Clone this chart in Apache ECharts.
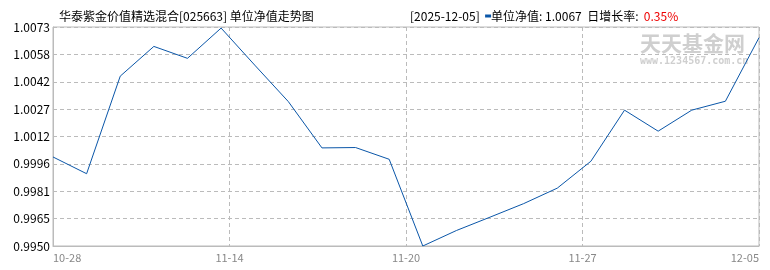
<!DOCTYPE html>
<html><head><meta charset="utf-8">
<script src="https://cdn.jsdelivr.net/npm/echarts@6/dist/echarts.min.js"></script>
<style>html,body{margin:0;padding:0;background:#fff}#c{width:770px;height:270px}</style>
</head><body><div id="c"></div>
<script>
// Unit NAV values (22 points, 10-28 .. 12-05)
const navValues = [1.0000, 0.99906, 1.00454, 1.00621, 1.00554, 1.00724, 1.00516, 1.00311, 1.00051, 1.00053, 0.99987,
  0.99500, 0.99587, 0.99662, 0.99738, 0.99825, 0.99976, 1.00263, 1.00145, 1.00263, 1.00313, 1.0067];
const xTickLabels = ['10-28', '11-14', '11-20', '11-27', '12-05'];
const yMin = 0.9950, yMax = 1.0073;
const titleText = '华泰紫金价值精选混合[025663] 单位净值走势图';
const infoDate = '[2025-12-05]';
const infoNav = '1.0067';
const infoRate = '0.35%';

const n = navValues.length;
const xStep = (n - 1) / (xTickLabels.length - 1);
const seriesData = navValues.map((v, i) => [i, v]);
const FONT = '"Noto Sans CJK SC", "Noto Sans", sans-serif';

const chart = echarts.init(document.getElementById('c'), null, {renderer: 'canvas'});
chart.setOption({
  animation: false,
  backgroundColor: '#fff',
  title: [{
    text: titleText, left: 54, top: 5,
    textStyle: {fontSize: 12, fontWeight: 'normal', color: '#000', fontFamily: FONT}
  }, {
    text: infoDate + '  {m|}单位净值: ' + infoNav + '  日增长率:  {r|' + infoRate + '}',
    left: 405, top: 5,
    textStyle: {fontSize: 12, fontWeight: 'normal', color: '#000', fontFamily: FONT,
      rich: {
        m: {width: 6, height: 3, backgroundColor: '#0a56a8', padding: 0},
        r: {color: '#e00', fontSize: 12, fontFamily: FONT}
      }}
  }],
  graphic: [{
    type: 'text', left: 640, top: 33, silent: true,
    style: {text: '天天基金网', fill: '#cfcfcf', font: 'bold 21px ' + FONT}
  }, {
    type: 'text', left: 640, top: 56, silent: true,
    style: {text: 'www.1234567.com.cn', fill: '#cfcfcf', font: 'bold 10px "DejaVu Sans Mono", monospace'}
  }],
  grid: {left: 53, right: 11, top: 27, bottom: 24, show: true, borderColor: '#bbb', borderWidth: 1, containLabel: false},
  xAxis: {
    type: 'value', min: 0, max: n - 1, interval: xStep,
    axisLine: {show: true, lineStyle: {color: '#bbb'}},
    axisTick: {show: false},
    splitLine: {show: true, lineStyle: {color: '#bbb', type: [4, 3]}},
    axisLabel: {
      color: '#888', fontSize: 11, fontFamily: FONT, margin: 6,
      alignMinLabel: 'left', alignMaxLabel: 'right',
      formatter: v => xTickLabels[Math.round(v / xStep)]
    }
  },
  yAxis: {
    type: 'value', min: yMin, max: yMax, interval: (yMax - yMin) / 8,
    axisLine: {show: true, lineStyle: {color: '#bbb'}},
    axisTick: {show: false},
    splitLine: {show: true, lineStyle: {color: '#bbb', type: [4, 3]}},
    axisLabel: {
      color: '#000', fontSize: 12, fontFamily: FONT, margin: 3,
      formatter: v => (Math.round(v * 10000 + 1e-6) / 10000).toFixed(4)
    }
  },
  series: [{
    type: 'line', data: seriesData, symbol: 'none', smooth: false,
    lineStyle: {color: '#0a56a8', width: 1}
  }]
});
</script></body></html>
